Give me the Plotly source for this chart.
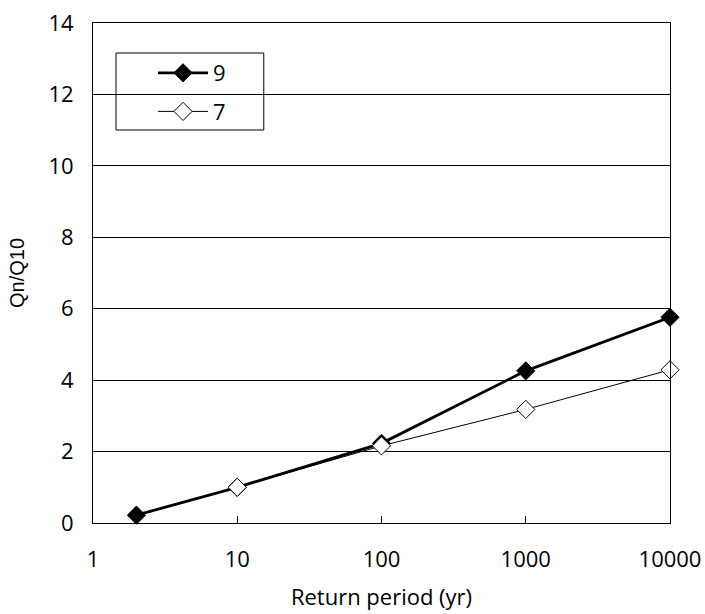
import plotly.graph_objects as go

periods_9 = [2, 10, 100, 1000, 10000]
ratio_9 = [0.22, 1.0, 2.23, 4.26, 5.76]
periods_7 = [10, 100, 1000, 10000]
ratio_7 = [1.0, 2.16, 3.18, 4.29]
x_ticks = [1, 10, 100, 1000, 10000]
x_tick_labels = ["1", "10", "100", "1000", "10000"]

FONT = "Open Sans"
FS = 22

fig = go.Figure()
fig.add_trace(go.Scatter(
    x=periods_9, y=ratio_9, name="9", mode="lines+markers",
    legendgroup="a", cliponaxis=False,
    line=dict(color="black", width=2.8),
    marker=dict(symbol="diamond", size=14, color="black",
                line=dict(color="black", width=1)),
))
fig.add_trace(go.Scatter(
    x=periods_7, y=ratio_7, name="7", mode="lines+markers",
    legendgroup="b", cliponaxis=False,
    line=dict(color="black", width=1),
    marker=dict(symbol="diamond", size=14, color="white",
                line=dict(color="black", width=1)),
))

# legend frame
fig.add_shape(type="rect", xref="x domain", yref="y domain",
              x0=0.0399, x1=0.296, y0=0.786, y1=0.94,
              fillcolor="white", line=dict(color="black", width=1),
              layer="below")

fig.update_layout(
    width=705, height=614,
    margin=dict(l=93, r=35, t=23, b=91, autoexpand=False),
    paper_bgcolor="white", plot_bgcolor="white",
    font=dict(family=FONT, size=FS, color="black"),
    showlegend=True,
    legend=dict(
        x=0.104, y=0.942, xanchor="left", yanchor="top",
        bgcolor="rgba(0,0,0,0)", borderwidth=0,
        font=dict(family=FONT, size=FS, color="black"),
        itemwidth=50, tracegroupgap=7, traceorder="grouped",
    ),
    xaxis=dict(
        type="log", range=[0, 4], automargin=False,
        tickvals=x_ticks, ticktext=x_tick_labels,
        showgrid=False, showline=True, linecolor="black", linewidth=1,
        mirror=True, ticks="inside", ticklen=7, tickcolor="black",
        tickfont=dict(family=FONT, size=FS), ticklabelstandoff=17,
        title=dict(text="Return period (yr)", font=dict(family=FONT, size=FS), standoff=17),
        zeroline=False,
    ),
    yaxis=dict(
        range=[0, 14], dtick=2, tick0=0, automargin=False,
        showgrid=True, gridcolor="black", gridwidth=1,
        showline=True, linecolor="black", linewidth=1, mirror=True,
        ticks="inside", ticklen=7, tickcolor="black",
        tickfont=dict(family=FONT, size=FS), ticklabelstandoff=14,
        title=dict(text="Qn/Q10", font=dict(family="Liberation Sans", size=20), standoff=18),
        zeroline=False,
    ),
)

fig.write_html("out.html")
